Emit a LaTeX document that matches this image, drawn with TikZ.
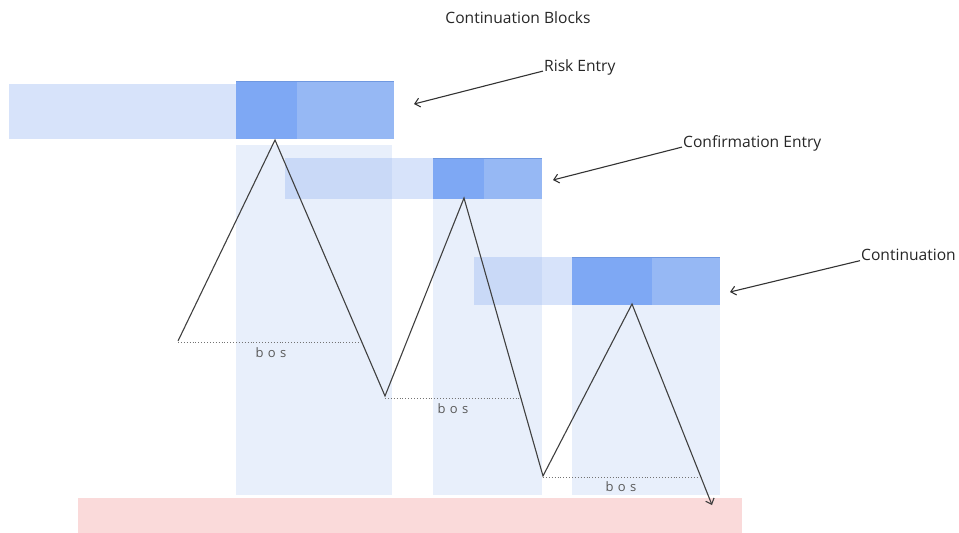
\documentclass[tikz,border=0pt]{standalone}
\usepackage{fontspec}
\setmainfont{Open Sans}
\usetikzlibrary{arrows.meta}
\definecolor{colblue}{HTML}{E8EFFB}
\definecolor{bandblue}{HTML}{D7E3FA}
\definecolor{bandover}{HTML}{C9D9F7}
\definecolor{darkblue}{HTML}{7EA8F4}
\definecolor{midblue}{HTML}{96B8F4}
\definecolor{edgeblue}{HTML}{6F98E0}
\definecolor{redband}{HTML}{FADADA}
\begin{document}
\begin{tikzpicture}[x=1pt,y=-1pt,>={Straight Barb[length=5pt,width=9pt]},
  every node/.style={inner sep=1pt},
  lbl/.style={font=\fontsize{15.6}{18}\selectfont,text=black!85,anchor=west},
  bos/.style={font=\fontsize{13}{15}\selectfont,text=black!65},
  zig/.style={draw=black!75,line width=1.1pt},
  brk/.style={draw=black!55,dotted,line width=0.9pt},
  ann/.style={draw=black!80,line width=1.1pt,->}]
\useasboundingbox (0,0) rectangle (959,533);
% columns
\fill[colblue] (236,145) rectangle (392,495);
\fill[colblue] (433,199) rectangle (542,495);
\fill[colblue] (572,305) rectangle (720,495);
\fill[redband] (78,498) rectangle (742,533);
% block 1
\fill[bandblue] (9,84) rectangle (236,139);
\fill[darkblue] (236,81) rectangle (297,139);
\fill[midblue] (297,81) rectangle (394,139);
\draw[edgeblue,line width=0.6pt] (236,81) -- (394,81);
% block 2
\fill[bandover] (285,158) rectangle (392,199);
\fill[bandblue] (392,158) rectangle (433,199);
\fill[darkblue] (433,158) rectangle (484,199);
\fill[midblue] (484,158) rectangle (542,199);
\draw[edgeblue,line width=0.6pt] (433,158) -- (542,158);
% block 3
\fill[bandover] (474,257) rectangle (542,305);
\fill[bandblue] (542,257) rectangle (572,305);
\fill[darkblue] (572,257) rectangle (652,305);
\fill[midblue] (652,257) rectangle (720,305);
\draw[edgeblue,line width=0.6pt] (572,257) -- (720,257);
% price path
\coordinate (s0) at (178,341);
\coordinate (p1) at (275,140);
\coordinate (t1) at (385,396);
\coordinate (p2) at (464,198);
\coordinate (t2) at (543,476);
\coordinate (p3) at (632,304);
\coordinate (e) at (712,505);
\coordinate (b1) at (362,342);
\coordinate (b2) at (522,398);
\coordinate (b3) at (699,477);
\draw[zig,->] (s0) -- (p1) -- (t1) -- (p2) -- (t2) -- (p3) -- (e);
\draw[brk] (178,342) -- (b1);
\draw[brk] (385,398) -- (b2);
\draw[brk] (543,477) -- (b3);
\node[bos] (bos1) at (271,353) {b\,\,o\,\,s};
\node[bos] (bos2) at (453,409) {b\,\,o\,\,s};
\node[bos] (bos3) at (621,487) {b\,\,o\,\,s};
% labels
\node[font=\fontsize{15.6}{18}\selectfont,text=black!85] (title) at (518,18) {Continuation Blocks};
\node[lbl] (risk) at (543,67) {Risk Entry};
\node[lbl] (conf) at (682,143) {Confirmation Entry};
\node[lbl] (cont) at (860,255) {Continuation};
\coordinate (rtip) at (414,104);
\coordinate (ctip) at (553,180);
\coordinate (ntip) at (730,292);
\draw[ann] (risk.base west) -- (rtip);
\draw[ann] (conf.base west) -- (ctip);
\draw[ann] (cont.base west) -- (ntip);
\end{tikzpicture}
\end{document}
